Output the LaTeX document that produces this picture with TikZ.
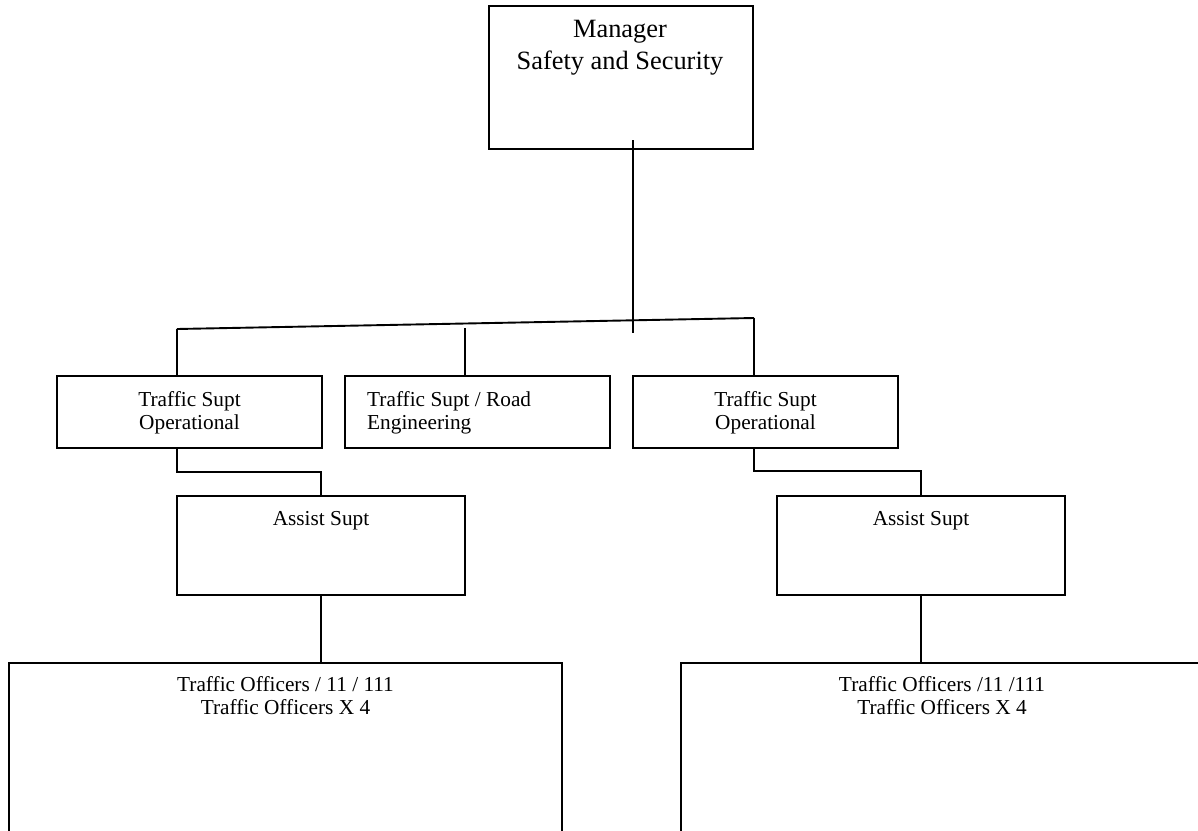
\documentclass[tikz,border=0pt]{standalone}
\usepackage{fontspec}
\setmainfont{Liberation Serif}
\begin{document}
\begin{tikzpicture}[x=1pt, y=-1pt,
  box/.style={draw, line width=1.9pt, anchor=north west, inner sep=0pt,
              outer sep=0pt, minimum width=#1},
  txt/.style={anchor=base, align=center, inner sep=0pt,
              font=\fontsize{21.3}{23}\selectfont},
  bigtxt/.style={anchor=base, align=center, inner sep=0pt,
              font=\fontsize{26.4}{32}\selectfont},
  link/.style={line width=1.9pt}]
\useasboundingbox (0,0) rectangle (1198,830);
\clip (0,0) rectangle (1198,830);

% top level (multi-line texts are placed by the baseline of their last line)
\node[box=264pt, minimum height=143pt] (mgr) at (489,6) {};
\node[bigtxt] (mgrT) at (620,69) {Manager\\Safety and Security};

% second level
\node[box=265pt, minimum height=72pt] (ops1) at (57,376) {};
\node[txt] (ops1T) at (189.5,429) {Traffic Supt\\Operational};
\node[box=265pt, minimum height=72pt] (road) at (345,376) {};
\node[txt, anchor=base west, align=left] (roadT) at (367,429) {Traffic Supt / Road\\Engineering};
\node[box=265pt, minimum height=72pt] (ops3) at (633,376) {};
\node[txt] (ops3T) at (765.5,429) {Traffic Supt\\Operational};

% third level
\node[box=288pt, minimum height=99pt] (asst1) at (177,496) {};
\node[txt] (asst1T) at (321,525) {Assist Supt};
\node[box=288pt, minimum height=99pt] (asst2) at (777,496) {};
\node[txt] (asst2T) at (921,525) {Assist Supt};

% fourth level
\node[box=553pt, minimum height=300pt] (offL) at (9,663) {};
\node[txt] (offLT) at (285.5,714) {Traffic Officers / 11 / 111\\Traffic Officers X 4};
\node[box=522pt, minimum height=300pt] (offR) at (681,663) {};
\node[txt] (offRT) at (942,714) {Traffic Officers /11 /111\\Traffic Officers X 4};

% connectors
\coordinate (stemTop) at (633,140);
\coordinate (stemBot) at (633,333);
\coordinate (busL) at (177,329);
\coordinate (busR) at (754,318);
\coordinate (midTop) at (465,328);
\draw[link] (stemTop) -- (stemBot);
\draw[link] (busL) -- (busR);
\draw[link] (busL) -- (busL |- ops1.north);
\draw[link] (midTop) -- (midTop |- road.north);
\draw[link] (busR) -- (busR |- ops3.north);
\draw[link] (ops1.south -| busL) -- ++(0,24) -| (asst1.north);
\draw[link] (ops3.south -| busR) -- ++(0,23) -| (asst2.north);
\draw[link] (asst1.south) -- (asst1.south |- offL.north);
\draw[link] (asst2.south) -- (asst2.south |- offR.north);
\end{tikzpicture}
\end{document}
